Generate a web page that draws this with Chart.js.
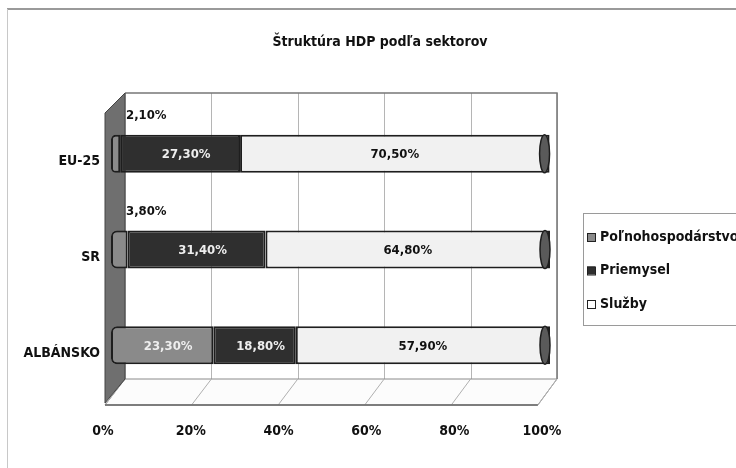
<!DOCTYPE html>
<html><head><meta charset="utf-8">
<script src="https://cdn.jsdelivr.net/npm/chart.js@4/dist/chart.umd.min.js"></script>
<style>html,body{margin:0;padding:0;background:#fff;overflow:hidden}#wrap{position:relative;width:736px;height:468px}</style>
</head><body><div id="wrap"><canvas id="c" width="736" height="468"></canvas></div>
<script>
const categories = ['EU-25', 'SR', 'ALBÁNSKO'];
const seriesNames = ['Poľnohospodárstvo', 'Priemysel', 'Služby'];
const agriculture = [2.10, 3.80, 23.30];
const industry = [27.30, 31.40, 18.80];
const services = [70.50, 64.80, 57.90];
const xTickValues = [0, 20, 40, 60, 80, 100];
const titleText = 'Štruktúra HDP podľa sektorov';

const FONT = "'Liberation Sans Narrow', 'DejaVu Sans Condensed', 'Arial Narrow', sans-serif";
const fills = ['#8a8a8a', '#2f2f2f', '#f1f1f1'];
const legendFills = ['#8a8a8a', '#2f2f2f', '#ffffff'];

function fmt(v){ return v.toFixed(2).replace('.', ',') + '%'; }

const scene = {
  id: 'scene3d',
  beforeDraw(chart){
    const ctx = chart.ctx;
    ctx.save();
    ctx.fillStyle = '#fff';
    ctx.fillRect(0, 0, chart.width, chart.height);
    ctx.strokeStyle = '#9a9a9a';
    ctx.lineWidth = 2;
    ctx.beginPath(); ctx.moveTo(7, 9); ctx.lineTo(chart.width, 9); ctx.stroke();
    ctx.strokeStyle = '#c8c8c8';
    ctx.lineWidth = 1;
    ctx.beginPath(); ctx.moveTo(7.5, 9); ctx.lineTo(7.5, chart.height); ctx.stroke();
    // title
    ctx.fillStyle = '#111';
    ctx.font = 'bold 14px ' + FONT;
    ctx.textAlign = 'center'; ctx.textBaseline = 'middle';
    ctx.fillText(titleText, 380, 42);
    ctx.restore();
  },
  beforeDatasetsDraw(chart){
    const ctx = chart.ctx, ca = chart.chartArea, xs = chart.scales.x;
    const wallTop = ca.top - 13, backBottom = ca.bottom - 14, frontBottom = ca.bottom + 12;
    const bx = v => ca.left + 14 + (xs.getPixelForValue(v) - ca.left) * 0.984;
    const fx = v => ca.left - 6 + (xs.getPixelForValue(v) - ca.left) * 0.986;
    ctx.save();
    // back wall grid
    ctx.strokeStyle = '#b5b5b5'; ctx.lineWidth = 1;
    xTickValues.forEach(v => {
      const x = Math.round(bx(v)) + 0.5;
      ctx.beginPath(); ctx.moveTo(x, wallTop); ctx.lineTo(x, backBottom); ctx.stroke();
    });
    ctx.strokeStyle = '#777'; ctx.lineWidth = 1.5;
    ctx.beginPath(); ctx.moveTo(bx(0), wallTop); ctx.lineTo(bx(100), wallTop); ctx.lineTo(bx(100), backBottom); ctx.stroke();
    // floor
    ctx.fillStyle = '#fcfcfc';
    ctx.beginPath();
    ctx.moveTo(bx(0), backBottom); ctx.lineTo(bx(100), backBottom);
    ctx.lineTo(fx(100), frontBottom); ctx.lineTo(fx(0), frontBottom); ctx.closePath();
    ctx.fill();
    ctx.strokeStyle = '#8a8a8a'; ctx.lineWidth = 1; ctx.stroke();
    ctx.strokeStyle = '#b0b0b0';
    xTickValues.forEach(v => {
      ctx.beginPath(); ctx.moveTo(bx(v), backBottom); ctx.lineTo(fx(v), frontBottom); ctx.stroke();
    });
    ctx.strokeStyle = '#666'; ctx.lineWidth = 1.5;
    ctx.beginPath(); ctx.moveTo(fx(0), frontBottom); ctx.lineTo(fx(100), frontBottom); ctx.stroke();
    // left wall
    const w0 = bx(0), f0 = fx(0);
    ctx.fillStyle = '#6f6f6f';
    ctx.beginPath();
    ctx.moveTo(w0, wallTop); ctx.lineTo(w0, backBottom);
    ctx.lineTo(f0, frontBottom - 2); ctx.lineTo(f0, wallTop + 20); ctx.closePath();
    ctx.fill();
    ctx.strokeStyle = '#444'; ctx.lineWidth = 1; ctx.stroke();
    ctx.restore();
  },
  afterDatasetsDraw(chart){
    const ctx = chart.ctx;
    ctx.save();
    // right cylinder caps
    const last = chart.getDatasetMeta(chart.data.datasets.length - 1);
    last.data.forEach(bar => {
      const p = bar.getProps(['x', 'y', 'height'], true);
      ctx.fillStyle = '#5a5a5a'; ctx.strokeStyle = '#1e1e1e'; ctx.lineWidth = 1.5;
      ctx.beginPath(); ctx.ellipse(p.x - 5, p.y, 5, p.height / 2, 0, 0, Math.PI * 2);
      ctx.fill(); ctx.stroke();
    });
    // data labels
    ctx.font = 'bold 13px ' + FONT;
    ctx.textBaseline = 'middle';
    chart.data.datasets.forEach((ds, i) => {
      const meta = chart.getDatasetMeta(i);
      meta.data.forEach((bar, j) => {
        const v = ds.data[j];
        const p = bar.getProps(['x', 'y', 'base', 'height'], true);
        if (v < 5) {
          ctx.textAlign = 'left'; ctx.fillStyle = '#111';
          ctx.fillText(fmt(v), p.base + 15, p.y - p.height / 2 - 19);
        } else {
          ctx.textAlign = 'center';
          ctx.fillStyle = i < 2 ? '#eeeeee' : '#111';
          ctx.fillText(fmt(v), (p.base + p.x) / 2 + (i < 2 ? 6 : 0), p.y + 1);
        }
      });
    });
    ctx.restore();
  },
  afterDraw(chart){
    const ctx = chart.ctx;
    const lx = 583, ly = 213, lw = 200, lh = 112;
    ctx.save();
    ctx.strokeStyle = '#9a9a9a'; ctx.lineWidth = 1;
    ctx.strokeRect(lx + 0.5, ly + 0.5, lw, lh);
    ctx.font = 'bold 14px ' + FONT;
    ctx.textBaseline = 'middle'; ctx.textAlign = 'left';
    chart.data.datasets.forEach((ds, i) => {
      const cy = ly + 24 + i * 33.5;
      ctx.fillStyle = legendFills[i];
      ctx.fillRect(587, cy - 4, 8, 8);
      ctx.strokeStyle = '#222'; ctx.lineWidth = 1;
      ctx.strokeRect(587.5, cy - 3.5, 8, 8);
      ctx.fillStyle = '#111';
      ctx.fillText(ds.label, 600, cy);
    });
    ctx.restore();
  }
};

const datasets = [agriculture, industry, services].map((arr, i) => ({
  label: seriesNames[i],
  data: arr,
  backgroundColor: fills[i],
  borderColor: '#1e1e1e',
  borderWidth: 2,
  borderSkipped: false,
  borderRadius: i === 0 ? {topLeft: 6, bottomLeft: 6, topRight: 0, bottomRight: 0} : 0,
  barPercentage: 0.796,
  categoryPercentage: 0.5
}));

new Chart(document.getElementById('c'), {
  type: 'bar',
  data: { labels: categories, datasets },
  options: {
    indexAxis: 'y',
    responsive: false,
    animation: false,
    layout: { padding: { left: 8, right: 186, top: 106, bottom: 5 } },
    plugins: {
      legend: { display: false },
      tooltip: { enabled: false },
      title: { display: false }
    },
    scales: {
      x: {
        stacked: true, min: 0, max: 100,
        afterBuildTicks(scale){ scale.ticks = xTickValues.map(v => ({ value: v })); },
        afterFit(scale){ scale.height = 70; },
        grid: { display: false, drawTicks: false }, border: { display: false },
        ticks: {
          padding: 30, labelOffset: -8, color: '#111',
          font: { family: FONT, size: 14, weight: 'bold' },
          callback: v => v + '%'
        }
      },
      y: {
        stacked: true,
        afterFit(scale){ scale.width = 103; },
        grid: { display: false, drawTicks: false }, border: { display: false },
        ticks: { padding: 11, labelOffset: 8, color: '#111', font: { family: FONT, size: 14, weight: 'bold' } }
      }
    }
  },
  plugins: [scene]
});
</script></body></html>
